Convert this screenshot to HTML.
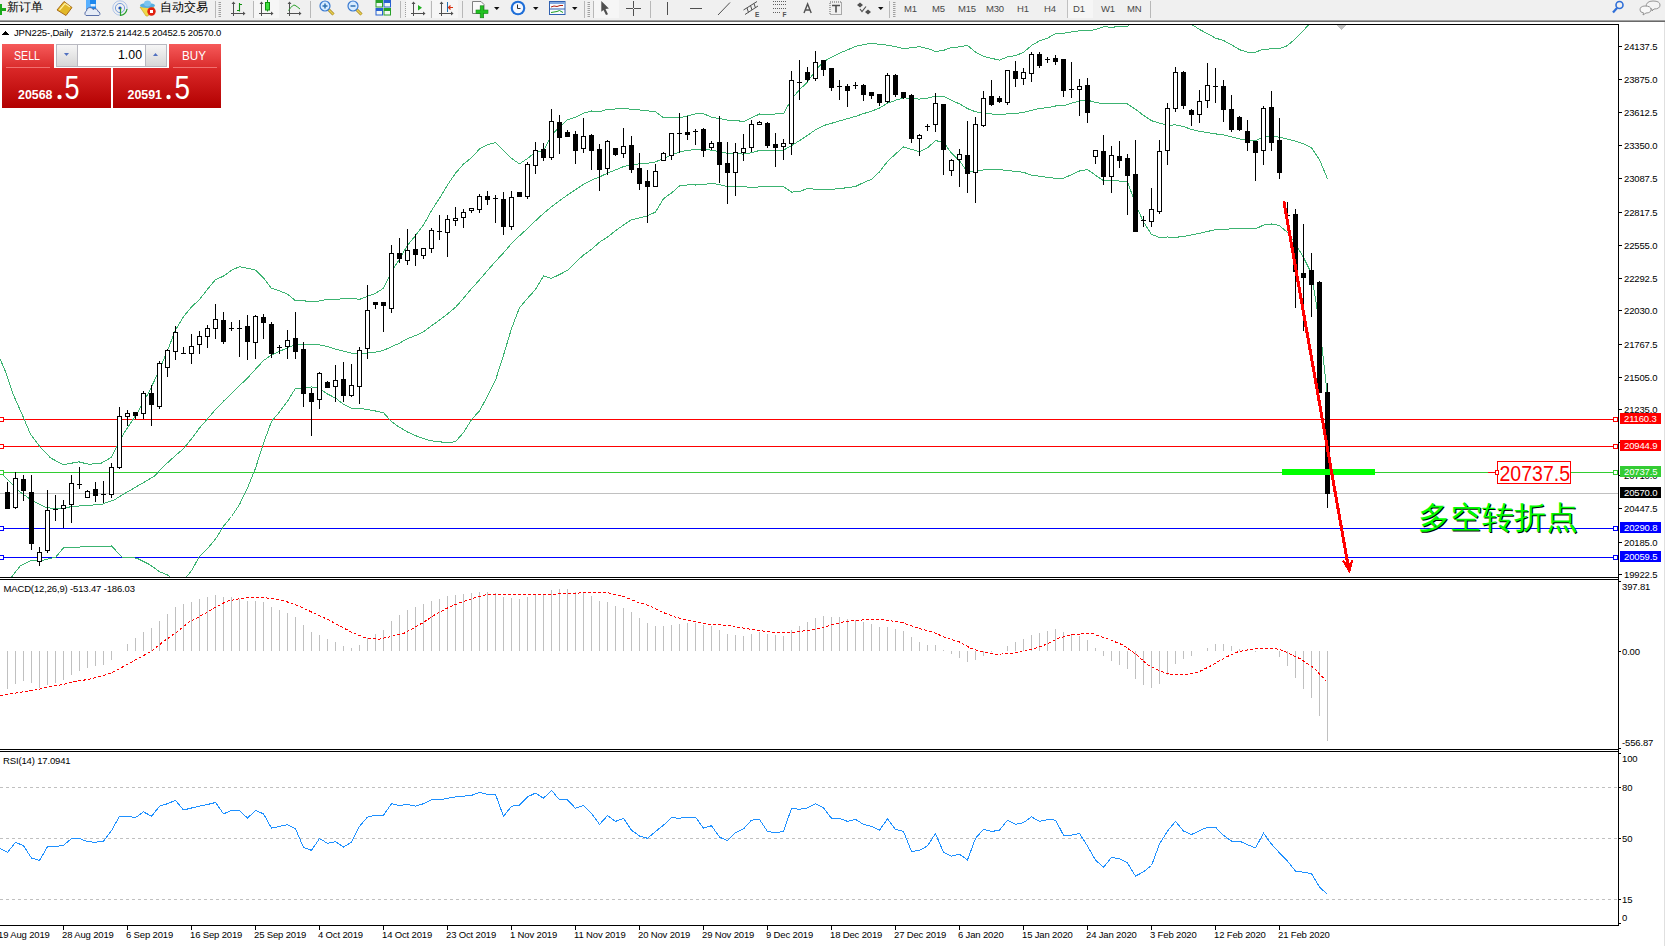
<!DOCTYPE html>
<html><head><meta charset="utf-8"><style>
html,body{margin:0;padding:0;width:1665px;height:946px;overflow:hidden;background:#fff;font-family:"Liberation Sans",sans-serif;}
#tb{position:absolute;left:0;top:0;width:1665px;height:20px;background:#f0f0f0;border-bottom:1px solid #a0a0a0;}
#tb2{position:absolute;left:0;top:21px;width:1665px;height:1px;background:#696969;}
svg{position:absolute;left:0;top:0;font-family:"Liberation Sans",sans-serif;}
.ax text{font-size:9.5px;letter-spacing:-0.15px;}
</style></head><body>
<div id="tb"></div><div id="tb2"></div>
<svg width="1665" height="946" viewBox="0 0 1665 946">
<g shape-rendering="crispEdges">
<defs><clipPath id="cm"><rect x="0" y="25" width="1618" height="552"/></clipPath><clipPath id="cd"><rect x="0" y="580" width="1618" height="169"/></clipPath><clipPath id="cr"><rect x="0" y="752" width="1618" height="173"/></clipPath></defs>
<g clip-path="url(#cm)">
<rect x="0" y="493" width="1618" height="1" fill="#c0c0c0"/>
<rect x="0" y="419" width="1618" height="1" fill="#ff0000"/>
<rect x="0" y="446" width="1618" height="1" fill="#ff0000"/>
<rect x="0" y="472" width="1618" height="1" fill="#32cd32"/>
<rect x="0" y="528" width="1618" height="1" fill="#0000ff"/>
<rect x="0" y="557" width="1618" height="1" fill="#0000ff"/>
<polyline points="0.0,359.0 5.0,370.4 12.7,393.3 22.8,416.1 30.4,433.9 40.6,447.8 50.7,458.0 63.4,464.8 78.7,461.8 88.8,464.3 101.5,463.0 111.6,457.2 119.3,441.5 124.3,432.6 137.0,413.6 149.7,390.7 159.5,369.7 167.5,350.6 175.5,329.9 183.5,316.6 191.5,306.9 199.5,299.5 207.5,289.2 215.5,279.7 223.5,276.1 231.5,270.3 239.5,266.7 247.5,268.2 255.5,270.1 263.5,278.0 271.5,288.3 279.5,290.9 287.5,294.1 295.5,300.7 303.5,300.8 311.5,301.6 319.5,301.0 327.5,299.2 335.5,300.0 343.5,298.1 351.5,298.1 359.5,299.4 367.5,296.3 375.5,293.4 383.5,288.2 391.5,271.8 399.5,259.1 407.5,245.3 415.5,235.6 423.5,225.0 431.5,210.6 439.5,198.3 447.5,185.0 455.5,173.2 463.5,164.1 471.5,157.7 479.5,149.0 487.5,144.7 495.5,142.6 503.5,150.6 511.5,158.4 519.5,163.8 527.5,158.6 535.5,152.1 543.5,150.8 551.5,135.2 559.5,127.0 567.5,119.7 575.5,117.2 583.5,113.2 591.5,111.0 599.5,111.9 607.5,109.3 615.5,109.0 623.5,108.2 631.5,109.4 639.5,110.0 647.5,110.8 655.5,111.7 663.5,117.7 671.5,117.2 679.5,117.9 687.5,115.9 695.5,113.9 703.5,113.7 711.5,117.1 719.5,118.6 727.5,120.1 735.5,120.3 743.5,121.7 751.5,117.9 759.5,114.0 767.5,114.3 775.5,114.0 783.5,113.7 791.5,99.2 799.5,89.7 807.5,82.0 815.5,70.3 823.5,61.6 831.5,57.2 839.5,53.1 847.5,49.9 855.5,46.3 863.5,44.6 871.5,43.1 879.5,44.4 887.5,45.1 895.5,46.7 903.5,48.7 911.5,47.6 919.5,46.7 927.5,48.5 935.5,51.4 943.5,50.4 951.5,47.5 959.5,46.9 967.5,45.4 975.5,52.1 983.5,56.4 991.5,58.3 999.5,60.2 1007.5,56.8 1015.5,55.6 1023.5,52.4 1031.5,45.5 1039.5,40.8 1047.5,38.1 1055.5,33.7 1063.5,33.2 1071.5,32.0 1079.5,30.7 1087.5,30.8 1095.5,29.7 1103.5,26.8 1111.5,27.2 1119.5,26.7 1127.5,26.5 1135.5,14.2 1143.5,9.0 1151.5,6.9 1159.5,9.0 1167.5,13.3 1175.5,12.6 1183.5,16.3 1191.5,24.3 1199.5,29.4 1207.5,33.7 1215.5,38.1 1223.5,40.5 1231.5,44.7 1239.5,49.7 1247.5,52.1 1255.5,52.1 1263.5,49.2 1271.5,48.9 1279.5,48.7 1287.5,45.6 1295.5,38.6 1303.5,30.4 1311.5,21.7 1319.5,-5.4 1327.5,-39.0" fill="none" stroke="#3cb371" stroke-width="1" />
<polyline points="0.0,472.0 7.6,479.6 20.3,492.2 33.0,501.1 45.7,507.5 55.8,508.7 76.1,506.2 101.5,504.4 114.2,499.9 126.9,492.2 142.1,483.4 154.8,475.8 159.5,470.7 167.5,462.8 175.5,455.5 183.5,448.7 191.5,438.8 199.5,428.0 207.5,418.9 215.5,409.4 223.5,401.2 231.5,393.4 239.5,385.6 247.5,378.1 255.5,369.2 263.5,360.6 271.5,354.9 279.5,351.4 287.5,347.7 295.5,344.5 303.5,344.5 311.5,344.3 319.5,344.8 327.5,346.6 335.5,349.1 343.5,351.1 351.5,353.1 359.5,353.9 367.5,353.0 375.5,352.2 383.5,350.4 391.5,346.7 399.5,343.2 407.5,338.6 415.5,335.6 423.5,331.9 431.5,325.8 439.5,320.0 447.5,313.9 455.5,307.3 463.5,298.3 471.5,288.7 479.5,279.9 487.5,270.5 495.5,261.4 503.5,252.9 511.5,243.5 519.5,235.8 527.5,228.5 535.5,220.8 543.5,213.4 551.5,206.8 559.5,200.8 567.5,195.0 575.5,189.8 583.5,184.2 591.5,180.1 599.5,177.0 607.5,173.1 615.5,169.9 623.5,166.6 631.5,164.6 639.5,163.9 647.5,163.3 655.5,161.9 663.5,158.3 671.5,155.1 679.5,152.0 687.5,150.4 695.5,149.4 703.5,149.1 711.5,150.2 719.5,151.6 727.5,153.4 735.5,153.5 743.5,154.1 751.5,152.8 759.5,150.4 767.5,150.6 775.5,150.3 783.5,150.1 791.5,145.7 799.5,140.6 807.5,135.3 815.5,129.8 823.5,125.6 831.5,123.3 839.5,120.9 847.5,118.7 855.5,116.4 863.5,113.6 871.5,111.2 879.5,108.1 887.5,103.3 895.5,100.3 903.5,97.8 911.5,98.5 919.5,99.1 927.5,98.2 935.5,96.0 943.5,96.3 951.5,100.3 959.5,103.9 967.5,108.6 975.5,111.8 983.5,113.2 991.5,114.0 999.5,114.8 1007.5,113.8 1015.5,113.4 1023.5,112.4 1031.5,110.3 1039.5,108.5 1047.5,107.7 1055.5,106.0 1063.5,105.7 1071.5,103.3 1079.5,100.8 1087.5,100.1 1095.5,102.5 1103.5,103.8 1111.5,103.6 1119.5,103.9 1127.5,104.0 1135.5,109.3 1143.5,115.4 1151.5,120.7 1159.5,123.2 1167.5,125.2 1175.5,124.9 1183.5,126.5 1191.5,129.5 1199.5,131.3 1207.5,132.6 1215.5,133.9 1223.5,134.8 1231.5,136.8 1239.5,138.9 1247.5,140.4 1255.5,140.5 1263.5,137.1 1271.5,136.5 1279.5,137.1 1287.5,139.1 1295.5,141.1 1303.5,143.9 1311.5,147.6 1319.5,159.7 1327.5,178.9" fill="none" stroke="#3cb371" stroke-width="1" />
<polyline points="0.0,600.0 11.4,577.2 20.3,565.8 30.4,560.8 43.1,560.2 55.8,557.0 63.4,548.0 83.7,546.8 111.6,546.0 121.8,557.0 137.0,558.2 149.7,564.6 159.5,571.7 167.5,575.0 175.5,581.1 183.5,580.7 191.5,570.7 199.5,556.4 207.5,548.6 215.5,539.1 223.5,526.3 231.5,516.5 239.5,504.5 247.5,488.0 255.5,468.2 263.5,443.2 271.5,421.4 279.5,412.0 287.5,401.3 295.5,388.3 303.5,388.2 311.5,386.9 319.5,388.5 327.5,394.0 335.5,398.1 343.5,404.2 351.5,408.2 359.5,408.3 367.5,409.6 375.5,411.0 383.5,412.7 391.5,421.6 399.5,427.3 407.5,432.0 415.5,435.6 423.5,438.7 431.5,440.9 439.5,441.7 447.5,442.9 455.5,441.5 463.5,432.6 471.5,419.7 479.5,410.8 487.5,396.2 495.5,380.2 503.5,355.3 511.5,328.6 519.5,307.7 527.5,298.3 535.5,289.5 543.5,276.0 551.5,278.4 559.5,274.5 567.5,270.4 575.5,262.4 583.5,255.1 591.5,249.3 599.5,242.2 607.5,237.0 615.5,230.8 623.5,225.0 631.5,219.8 639.5,217.8 647.5,215.8 655.5,212.1 663.5,198.8 671.5,192.9 679.5,186.0 687.5,184.9 695.5,185.0 703.5,184.5 711.5,183.3 719.5,184.5 727.5,186.6 735.5,186.7 743.5,186.5 751.5,187.7 759.5,186.9 767.5,186.9 775.5,186.6 783.5,186.5 791.5,192.1 799.5,191.6 807.5,188.5 815.5,189.3 823.5,189.6 831.5,189.3 839.5,188.7 847.5,187.6 855.5,186.5 863.5,182.6 871.5,179.3 879.5,171.9 887.5,161.4 895.5,154.0 903.5,146.9 911.5,149.4 919.5,151.6 927.5,147.9 935.5,140.6 943.5,142.2 951.5,153.1 959.5,160.9 967.5,171.8 975.5,171.4 983.5,170.0 991.5,169.7 999.5,169.4 1007.5,170.8 1015.5,171.2 1023.5,172.3 1031.5,175.1 1039.5,176.2 1047.5,177.3 1055.5,178.4 1063.5,178.3 1071.5,174.6 1079.5,171.0 1087.5,169.5 1095.5,175.2 1103.5,180.8 1111.5,180.0 1119.5,181.1 1127.5,181.4 1135.5,204.4 1143.5,221.9 1151.5,234.5 1159.5,237.4 1167.5,237.0 1175.5,237.2 1183.5,236.7 1191.5,234.8 1199.5,233.3 1207.5,231.5 1215.5,229.6 1223.5,229.2 1231.5,228.9 1239.5,228.2 1247.5,228.8 1255.5,228.9 1263.5,225.1 1271.5,224.0 1279.5,225.5 1287.5,232.6 1295.5,243.6 1303.5,257.4 1311.5,273.6 1319.5,324.7 1327.5,396.8" fill="none" stroke="#3cb371" stroke-width="1" />
<rect x="7" y="482" width="1" height="27" fill="#000"/>
<rect x="5" y="492" width="5" height="17" fill="#000"/>
<rect x="15" y="472" width="1" height="37" fill="#000"/>
<rect x="13.5" y="478.5" width="4" height="29" fill="#fff" stroke="#000" stroke-width="1"/>
<rect x="23" y="475" width="1" height="26" fill="#000"/>
<rect x="21" y="479" width="5" height="12" fill="#000"/>
<rect x="31" y="475" width="1" height="75" fill="#000"/>
<rect x="29" y="492" width="5" height="52" fill="#000"/>
<rect x="39" y="547" width="1" height="19" fill="#000"/>
<rect x="37.5" y="552.5" width="4" height="9" fill="#fff" stroke="#000" stroke-width="1"/>
<rect x="47" y="490" width="1" height="63" fill="#000"/>
<rect x="45.5" y="510.5" width="4" height="40" fill="#fff" stroke="#000" stroke-width="1"/>
<rect x="55" y="495" width="1" height="26" fill="#000"/>
<rect x="53" y="509" width="5" height="1" fill="#000"/>
<rect x="63" y="500" width="1" height="28" fill="#000"/>
<rect x="61.5" y="505.5" width="4" height="3" fill="#fff" stroke="#000" stroke-width="1"/>
<rect x="71" y="475" width="1" height="48" fill="#000"/>
<rect x="69.5" y="483.5" width="4" height="21" fill="#fff" stroke="#000" stroke-width="1"/>
<rect x="79" y="467" width="1" height="22" fill="#000"/>
<rect x="77" y="484" width="5" height="1" fill="#000"/>
<rect x="87" y="490" width="1" height="8" fill="#000"/>
<rect x="85.5" y="491.5" width="4" height="6" fill="#fff" stroke="#000" stroke-width="1"/>
<rect x="95" y="482" width="1" height="20" fill="#000"/>
<rect x="93" y="489" width="5" height="7" fill="#000"/>
<rect x="103" y="481" width="1" height="22" fill="#000"/>
<rect x="101" y="494" width="5" height="1" fill="#000"/>
<rect x="111" y="463" width="1" height="35" fill="#000"/>
<rect x="109.5" y="467.5" width="4" height="27" fill="#fff" stroke="#000" stroke-width="1"/>
<rect x="119" y="407" width="1" height="62" fill="#000"/>
<rect x="117.5" y="416.5" width="4" height="51" fill="#fff" stroke="#000" stroke-width="1"/>
<rect x="127" y="410" width="1" height="16" fill="#000"/>
<rect x="125.5" y="413.5" width="4" height="3" fill="#fff" stroke="#000" stroke-width="1"/>
<rect x="135" y="412" width="1" height="7" fill="#000"/>
<rect x="133" y="412" width="5" height="4" fill="#000"/>
<rect x="143" y="391" width="1" height="28" fill="#000"/>
<rect x="141.5" y="393.5" width="4" height="20" fill="#fff" stroke="#000" stroke-width="1"/>
<rect x="151" y="385" width="1" height="41" fill="#000"/>
<rect x="149" y="393" width="5" height="12" fill="#000"/>
<rect x="159" y="361" width="1" height="48" fill="#000"/>
<rect x="157.5" y="363.5" width="4" height="43" fill="#fff" stroke="#000" stroke-width="1"/>
<rect x="167" y="349" width="1" height="28" fill="#000"/>
<rect x="165.5" y="350.5" width="4" height="17" fill="#fff" stroke="#000" stroke-width="1"/>
<rect x="175" y="326" width="1" height="34" fill="#000"/>
<rect x="173.5" y="332.5" width="4" height="19" fill="#fff" stroke="#000" stroke-width="1"/>
<rect x="183" y="347" width="1" height="7" fill="#000"/>
<rect x="181" y="353" width="5" height="1" fill="#000"/>
<rect x="191" y="334" width="1" height="30" fill="#000"/>
<rect x="189.5" y="346.5" width="4" height="7" fill="#fff" stroke="#000" stroke-width="1"/>
<rect x="199" y="331" width="1" height="23" fill="#000"/>
<rect x="197.5" y="336.5" width="4" height="8" fill="#fff" stroke="#000" stroke-width="1"/>
<rect x="207" y="325" width="1" height="23" fill="#000"/>
<rect x="205.5" y="328.5" width="4" height="8" fill="#fff" stroke="#000" stroke-width="1"/>
<rect x="215" y="304" width="1" height="35" fill="#000"/>
<rect x="213.5" y="319.5" width="4" height="9" fill="#fff" stroke="#000" stroke-width="1"/>
<rect x="223" y="312" width="1" height="32" fill="#000"/>
<rect x="221" y="320" width="5" height="22" fill="#000"/>
<rect x="231" y="322" width="1" height="9" fill="#000"/>
<rect x="229" y="328" width="5" height="1" fill="#000"/>
<rect x="239" y="320" width="1" height="37" fill="#000"/>
<rect x="237" y="328" width="5" height="1" fill="#000"/>
<rect x="247" y="315" width="1" height="45" fill="#000"/>
<rect x="245" y="326" width="5" height="16" fill="#000"/>
<rect x="255" y="315" width="1" height="44" fill="#000"/>
<rect x="253.5" y="316.5" width="4" height="26" fill="#fff" stroke="#000" stroke-width="1"/>
<rect x="263" y="314" width="1" height="25" fill="#000"/>
<rect x="261" y="317" width="5" height="6" fill="#000"/>
<rect x="271" y="322" width="1" height="36" fill="#000"/>
<rect x="269" y="324" width="5" height="30" fill="#000"/>
<rect x="279" y="345" width="1" height="9" fill="#000"/>
<rect x="277" y="347" width="5" height="1" fill="#000"/>
<rect x="287" y="330" width="1" height="29" fill="#000"/>
<rect x="285.5" y="340.5" width="4" height="6" fill="#fff" stroke="#000" stroke-width="1"/>
<rect x="295" y="312" width="1" height="47" fill="#000"/>
<rect x="293" y="338" width="5" height="14" fill="#000"/>
<rect x="303" y="342" width="1" height="65" fill="#000"/>
<rect x="301" y="349" width="5" height="45" fill="#000"/>
<rect x="311" y="388" width="1" height="48" fill="#000"/>
<rect x="309" y="393" width="5" height="9" fill="#000"/>
<rect x="319" y="372" width="1" height="37" fill="#000"/>
<rect x="317.5" y="373.5" width="4" height="26" fill="#fff" stroke="#000" stroke-width="1"/>
<rect x="327" y="381" width="1" height="7" fill="#000"/>
<rect x="325" y="382" width="5" height="6" fill="#000"/>
<rect x="335" y="365" width="1" height="37" fill="#000"/>
<rect x="333.5" y="380.5" width="4" height="6" fill="#fff" stroke="#000" stroke-width="1"/>
<rect x="343" y="362" width="1" height="40" fill="#000"/>
<rect x="341" y="379" width="5" height="17" fill="#000"/>
<rect x="351" y="364" width="1" height="33" fill="#000"/>
<rect x="349.5" y="385.5" width="4" height="10" fill="#fff" stroke="#000" stroke-width="1"/>
<rect x="359" y="347" width="1" height="57" fill="#000"/>
<rect x="357.5" y="350.5" width="4" height="36" fill="#fff" stroke="#000" stroke-width="1"/>
<rect x="367" y="285" width="1" height="74" fill="#000"/>
<rect x="365.5" y="310.5" width="4" height="38" fill="#fff" stroke="#000" stroke-width="1"/>
<rect x="375" y="302" width="1" height="7" fill="#000"/>
<rect x="373" y="302" width="5" height="3" fill="#000"/>
<rect x="383" y="302" width="1" height="30" fill="#000"/>
<rect x="381" y="302" width="5" height="4" fill="#000"/>
<rect x="391" y="245" width="1" height="68" fill="#000"/>
<rect x="389.5" y="253.5" width="4" height="55" fill="#fff" stroke="#000" stroke-width="1"/>
<rect x="399" y="238" width="1" height="25" fill="#000"/>
<rect x="397" y="253" width="5" height="6" fill="#000"/>
<rect x="407" y="229" width="1" height="36" fill="#000"/>
<rect x="405.5" y="250.5" width="4" height="10" fill="#fff" stroke="#000" stroke-width="1"/>
<rect x="415" y="234" width="1" height="32" fill="#000"/>
<rect x="413" y="249" width="5" height="6" fill="#000"/>
<rect x="423" y="248" width="1" height="11" fill="#000"/>
<rect x="421.5" y="248.5" width="4" height="7" fill="#fff" stroke="#000" stroke-width="1"/>
<rect x="431" y="228" width="1" height="25" fill="#000"/>
<rect x="429.5" y="230.5" width="4" height="18" fill="#fff" stroke="#000" stroke-width="1"/>
<rect x="439" y="215" width="1" height="25" fill="#000"/>
<rect x="437" y="231" width="5" height="1" fill="#000"/>
<rect x="447" y="215" width="1" height="42" fill="#000"/>
<rect x="445.5" y="219.5" width="4" height="13" fill="#fff" stroke="#000" stroke-width="1"/>
<rect x="455" y="207" width="1" height="19" fill="#000"/>
<rect x="453.5" y="218.5" width="4" height="2" fill="#fff" stroke="#000" stroke-width="1"/>
<rect x="463" y="209" width="1" height="19" fill="#000"/>
<rect x="461.5" y="212.5" width="4" height="5" fill="#fff" stroke="#000" stroke-width="1"/>
<rect x="471" y="208" width="1" height="5" fill="#000"/>
<rect x="469.5" y="208.5" width="4" height="2" fill="#fff" stroke="#000" stroke-width="1"/>
<rect x="479" y="194" width="1" height="19" fill="#000"/>
<rect x="477.5" y="196.5" width="4" height="13" fill="#fff" stroke="#000" stroke-width="1"/>
<rect x="487" y="191" width="1" height="14" fill="#000"/>
<rect x="485" y="196" width="5" height="4" fill="#000"/>
<rect x="495" y="195" width="1" height="28" fill="#000"/>
<rect x="493" y="198" width="5" height="1" fill="#000"/>
<rect x="503" y="192" width="1" height="43" fill="#000"/>
<rect x="501" y="199" width="5" height="28" fill="#000"/>
<rect x="511" y="191" width="1" height="39" fill="#000"/>
<rect x="509.5" y="197.5" width="4" height="29" fill="#fff" stroke="#000" stroke-width="1"/>
<rect x="519" y="192" width="1" height="5" fill="#000"/>
<rect x="517" y="192" width="5" height="5" fill="#000"/>
<rect x="527" y="162" width="1" height="37" fill="#000"/>
<rect x="525.5" y="164.5" width="4" height="32" fill="#fff" stroke="#000" stroke-width="1"/>
<rect x="535" y="142" width="1" height="32" fill="#000"/>
<rect x="533.5" y="150.5" width="4" height="15" fill="#fff" stroke="#000" stroke-width="1"/>
<rect x="543" y="143" width="1" height="18" fill="#000"/>
<rect x="541" y="149" width="5" height="9" fill="#000"/>
<rect x="551" y="109" width="1" height="51" fill="#000"/>
<rect x="549.5" y="121.5" width="4" height="36" fill="#fff" stroke="#000" stroke-width="1"/>
<rect x="559" y="115" width="1" height="39" fill="#000"/>
<rect x="557" y="122" width="5" height="16" fill="#000"/>
<rect x="567" y="130" width="1" height="7" fill="#000"/>
<rect x="565" y="132" width="5" height="5" fill="#000"/>
<rect x="575" y="131" width="1" height="33" fill="#000"/>
<rect x="573" y="134" width="5" height="17" fill="#000"/>
<rect x="583" y="118" width="1" height="35" fill="#000"/>
<rect x="581.5" y="136.5" width="4" height="12" fill="#fff" stroke="#000" stroke-width="1"/>
<rect x="591" y="134" width="1" height="36" fill="#000"/>
<rect x="589" y="135" width="5" height="16" fill="#000"/>
<rect x="599" y="144" width="1" height="47" fill="#000"/>
<rect x="597" y="149" width="5" height="21" fill="#000"/>
<rect x="607" y="140" width="1" height="35" fill="#000"/>
<rect x="605.5" y="141.5" width="4" height="27" fill="#fff" stroke="#000" stroke-width="1"/>
<rect x="615" y="148" width="1" height="8" fill="#000"/>
<rect x="613" y="148" width="5" height="7" fill="#000"/>
<rect x="623" y="128" width="1" height="30" fill="#000"/>
<rect x="621.5" y="146.5" width="4" height="7" fill="#fff" stroke="#000" stroke-width="1"/>
<rect x="631" y="136" width="1" height="37" fill="#000"/>
<rect x="629" y="145" width="5" height="25" fill="#000"/>
<rect x="639" y="153" width="1" height="37" fill="#000"/>
<rect x="637" y="168" width="5" height="16" fill="#000"/>
<rect x="647" y="170" width="1" height="53" fill="#000"/>
<rect x="645" y="181" width="5" height="6" fill="#000"/>
<rect x="655" y="164" width="1" height="23" fill="#000"/>
<rect x="653.5" y="171.5" width="4" height="15" fill="#fff" stroke="#000" stroke-width="1"/>
<rect x="663" y="152" width="1" height="9" fill="#000"/>
<rect x="661.5" y="153.5" width="4" height="7" fill="#fff" stroke="#000" stroke-width="1"/>
<rect x="671" y="133" width="1" height="27" fill="#000"/>
<rect x="669.5" y="133.5" width="4" height="22" fill="#fff" stroke="#000" stroke-width="1"/>
<rect x="679" y="113" width="1" height="40" fill="#000"/>
<rect x="677" y="133" width="5" height="1" fill="#000"/>
<rect x="687" y="116" width="1" height="24" fill="#000"/>
<rect x="685" y="132" width="5" height="3" fill="#000"/>
<rect x="695" y="129" width="1" height="16" fill="#000"/>
<rect x="693" y="131" width="5" height="1" fill="#000"/>
<rect x="703" y="128" width="1" height="29" fill="#000"/>
<rect x="701" y="129" width="5" height="22" fill="#000"/>
<rect x="711" y="141" width="1" height="9" fill="#000"/>
<rect x="709.5" y="143.5" width="4" height="4" fill="#fff" stroke="#000" stroke-width="1"/>
<rect x="719" y="116" width="1" height="67" fill="#000"/>
<rect x="717" y="142" width="5" height="23" fill="#000"/>
<rect x="727" y="142" width="1" height="62" fill="#000"/>
<rect x="725" y="163" width="5" height="10" fill="#000"/>
<rect x="735" y="143" width="1" height="53" fill="#000"/>
<rect x="733.5" y="152.5" width="4" height="20" fill="#fff" stroke="#000" stroke-width="1"/>
<rect x="743" y="134" width="1" height="27" fill="#000"/>
<rect x="741.5" y="148.5" width="4" height="4" fill="#fff" stroke="#000" stroke-width="1"/>
<rect x="751" y="120" width="1" height="32" fill="#000"/>
<rect x="749.5" y="124.5" width="4" height="23" fill="#fff" stroke="#000" stroke-width="1"/>
<rect x="759" y="121" width="1" height="4" fill="#000"/>
<rect x="757.5" y="122.5" width="4" height="2" fill="#fff" stroke="#000" stroke-width="1"/>
<rect x="767" y="122" width="1" height="26" fill="#000"/>
<rect x="765" y="123" width="5" height="23" fill="#000"/>
<rect x="775" y="133" width="1" height="34" fill="#000"/>
<rect x="773" y="144" width="5" height="4" fill="#000"/>
<rect x="783" y="139" width="1" height="21" fill="#000"/>
<rect x="781.5" y="143.5" width="4" height="3" fill="#fff" stroke="#000" stroke-width="1"/>
<rect x="791" y="71" width="1" height="84" fill="#000"/>
<rect x="789.5" y="80.5" width="4" height="63" fill="#fff" stroke="#000" stroke-width="1"/>
<rect x="799" y="60" width="1" height="40" fill="#000"/>
<rect x="797" y="82" width="5" height="1" fill="#000"/>
<rect x="807" y="67" width="1" height="15" fill="#000"/>
<rect x="805" y="72" width="5" height="8" fill="#000"/>
<rect x="815" y="51" width="1" height="30" fill="#000"/>
<rect x="813.5" y="62.5" width="4" height="16" fill="#fff" stroke="#000" stroke-width="1"/>
<rect x="823" y="60" width="1" height="16" fill="#000"/>
<rect x="821" y="60" width="5" height="10" fill="#000"/>
<rect x="831" y="68" width="1" height="23" fill="#000"/>
<rect x="829" y="68" width="5" height="20" fill="#000"/>
<rect x="839" y="80" width="1" height="20" fill="#000"/>
<rect x="837" y="86" width="5" height="1" fill="#000"/>
<rect x="847" y="84" width="1" height="23" fill="#000"/>
<rect x="845" y="86" width="5" height="5" fill="#000"/>
<rect x="855" y="82" width="1" height="7" fill="#000"/>
<rect x="853" y="85" width="5" height="1" fill="#000"/>
<rect x="863" y="84" width="1" height="17" fill="#000"/>
<rect x="861" y="85" width="5" height="10" fill="#000"/>
<rect x="871" y="92" width="1" height="7" fill="#000"/>
<rect x="869" y="92" width="5" height="4" fill="#000"/>
<rect x="879" y="94" width="1" height="12" fill="#000"/>
<rect x="877" y="94" width="5" height="9" fill="#000"/>
<rect x="887" y="73" width="1" height="30" fill="#000"/>
<rect x="885.5" y="75.5" width="4" height="26" fill="#fff" stroke="#000" stroke-width="1"/>
<rect x="895" y="74" width="1" height="23" fill="#000"/>
<rect x="893" y="75" width="5" height="20" fill="#000"/>
<rect x="903" y="92" width="1" height="7" fill="#000"/>
<rect x="901" y="92" width="5" height="6" fill="#000"/>
<rect x="911" y="94" width="1" height="49" fill="#000"/>
<rect x="909" y="95" width="5" height="44" fill="#000"/>
<rect x="919" y="134" width="1" height="22" fill="#000"/>
<rect x="917.5" y="135.5" width="4" height="3" fill="#fff" stroke="#000" stroke-width="1"/>
<rect x="927" y="124" width="1" height="7" fill="#000"/>
<rect x="925" y="126" width="5" height="1" fill="#000"/>
<rect x="935" y="93" width="1" height="39" fill="#000"/>
<rect x="933.5" y="103.5" width="4" height="21" fill="#fff" stroke="#000" stroke-width="1"/>
<rect x="943" y="104" width="1" height="71" fill="#000"/>
<rect x="941" y="104" width="5" height="46" fill="#000"/>
<rect x="951" y="159" width="1" height="17" fill="#000"/>
<rect x="949.5" y="160.5" width="4" height="10" fill="#fff" stroke="#000" stroke-width="1"/>
<rect x="959" y="149" width="1" height="38" fill="#000"/>
<rect x="957.5" y="154.5" width="4" height="5" fill="#fff" stroke="#000" stroke-width="1"/>
<rect x="967" y="121" width="1" height="72" fill="#000"/>
<rect x="965" y="155" width="5" height="19" fill="#000"/>
<rect x="975" y="117" width="1" height="86" fill="#000"/>
<rect x="973.5" y="124.5" width="4" height="48" fill="#fff" stroke="#000" stroke-width="1"/>
<rect x="983" y="91" width="1" height="36" fill="#000"/>
<rect x="981.5" y="98.5" width="4" height="27" fill="#fff" stroke="#000" stroke-width="1"/>
<rect x="991" y="80" width="1" height="26" fill="#000"/>
<rect x="989" y="96" width="5" height="9" fill="#000"/>
<rect x="999" y="96" width="1" height="7" fill="#000"/>
<rect x="997" y="98" width="5" height="4" fill="#000"/>
<rect x="1007" y="70" width="1" height="35" fill="#000"/>
<rect x="1005.5" y="70.5" width="4" height="32" fill="#fff" stroke="#000" stroke-width="1"/>
<rect x="1015" y="61" width="1" height="26" fill="#000"/>
<rect x="1013" y="71" width="5" height="8" fill="#000"/>
<rect x="1023" y="68" width="1" height="17" fill="#000"/>
<rect x="1021.5" y="72.5" width="4" height="6" fill="#fff" stroke="#000" stroke-width="1"/>
<rect x="1031" y="52" width="1" height="30" fill="#000"/>
<rect x="1029.5" y="54.5" width="4" height="19" fill="#fff" stroke="#000" stroke-width="1"/>
<rect x="1039" y="52" width="1" height="16" fill="#000"/>
<rect x="1037" y="54" width="5" height="12" fill="#000"/>
<rect x="1047" y="57" width="1" height="6" fill="#000"/>
<rect x="1045" y="59" width="5" height="1" fill="#000"/>
<rect x="1055" y="55" width="1" height="10" fill="#000"/>
<rect x="1053" y="58" width="5" height="4" fill="#000"/>
<rect x="1063" y="59" width="1" height="38" fill="#000"/>
<rect x="1061" y="59" width="5" height="32" fill="#000"/>
<rect x="1071" y="62" width="1" height="36" fill="#000"/>
<rect x="1069" y="89" width="5" height="1" fill="#000"/>
<rect x="1079" y="79" width="1" height="37" fill="#000"/>
<rect x="1077.5" y="86.5" width="4" height="3" fill="#fff" stroke="#000" stroke-width="1"/>
<rect x="1087" y="78" width="1" height="45" fill="#000"/>
<rect x="1085" y="85" width="5" height="28" fill="#000"/>
<rect x="1095" y="150" width="1" height="14" fill="#000"/>
<rect x="1093.5" y="150.5" width="4" height="6" fill="#fff" stroke="#000" stroke-width="1"/>
<rect x="1103" y="135" width="1" height="50" fill="#000"/>
<rect x="1101" y="151" width="5" height="26" fill="#000"/>
<rect x="1111" y="146" width="1" height="47" fill="#000"/>
<rect x="1109.5" y="155.5" width="4" height="21" fill="#fff" stroke="#000" stroke-width="1"/>
<rect x="1119" y="141" width="1" height="27" fill="#000"/>
<rect x="1117" y="156" width="5" height="5" fill="#000"/>
<rect x="1127" y="154" width="1" height="61" fill="#000"/>
<rect x="1125" y="158" width="5" height="18" fill="#000"/>
<rect x="1135" y="140" width="1" height="92" fill="#000"/>
<rect x="1133" y="174" width="5" height="58" fill="#000"/>
<rect x="1143" y="216" width="1" height="11" fill="#000"/>
<rect x="1141" y="220" width="5" height="1" fill="#000"/>
<rect x="1151" y="188" width="1" height="39" fill="#000"/>
<rect x="1149.5" y="209.5" width="4" height="12" fill="#fff" stroke="#000" stroke-width="1"/>
<rect x="1159" y="140" width="1" height="74" fill="#000"/>
<rect x="1157.5" y="151.5" width="4" height="60" fill="#fff" stroke="#000" stroke-width="1"/>
<rect x="1167" y="103" width="1" height="62" fill="#000"/>
<rect x="1165.5" y="108.5" width="4" height="42" fill="#fff" stroke="#000" stroke-width="1"/>
<rect x="1175" y="67" width="1" height="45" fill="#000"/>
<rect x="1173.5" y="72.5" width="4" height="36" fill="#fff" stroke="#000" stroke-width="1"/>
<rect x="1183" y="71" width="1" height="38" fill="#000"/>
<rect x="1181" y="72" width="5" height="34" fill="#000"/>
<rect x="1191" y="109" width="1" height="17" fill="#000"/>
<rect x="1189" y="110" width="5" height="5" fill="#000"/>
<rect x="1199" y="90" width="1" height="33" fill="#000"/>
<rect x="1197.5" y="101.5" width="4" height="13" fill="#fff" stroke="#000" stroke-width="1"/>
<rect x="1207" y="63" width="1" height="45" fill="#000"/>
<rect x="1205.5" y="85.5" width="4" height="15" fill="#fff" stroke="#000" stroke-width="1"/>
<rect x="1215" y="68" width="1" height="35" fill="#000"/>
<rect x="1213" y="86" width="5" height="1" fill="#000"/>
<rect x="1223" y="80" width="1" height="42" fill="#000"/>
<rect x="1221" y="86" width="5" height="24" fill="#000"/>
<rect x="1231" y="95" width="1" height="37" fill="#000"/>
<rect x="1229" y="109" width="5" height="21" fill="#000"/>
<rect x="1239" y="116" width="1" height="15" fill="#000"/>
<rect x="1237" y="117" width="5" height="13" fill="#000"/>
<rect x="1247" y="120" width="1" height="31" fill="#000"/>
<rect x="1245" y="131" width="5" height="12" fill="#000"/>
<rect x="1255" y="141" width="1" height="40" fill="#000"/>
<rect x="1253" y="141" width="5" height="12" fill="#000"/>
<rect x="1263" y="106" width="1" height="59" fill="#000"/>
<rect x="1261.5" y="108.5" width="4" height="42" fill="#fff" stroke="#000" stroke-width="1"/>
<rect x="1271" y="91" width="1" height="60" fill="#000"/>
<rect x="1269" y="107" width="5" height="36" fill="#000"/>
<rect x="1279" y="118" width="1" height="61" fill="#000"/>
<rect x="1277" y="140" width="5" height="33" fill="#000"/>
<rect x="1287" y="202" width="1" height="14" fill="#000"/>
<rect x="1285" y="215" width="5" height="1" fill="#000"/>
<rect x="1295" y="209" width="1" height="99" fill="#000"/>
<rect x="1293" y="214" width="5" height="58" fill="#000"/>
<rect x="1303" y="224" width="1" height="107" fill="#000"/>
<rect x="1301" y="273" width="5" height="5" fill="#000"/>
<rect x="1311" y="253" width="1" height="64" fill="#000"/>
<rect x="1309" y="270" width="5" height="15" fill="#000"/>
<rect x="1319" y="281" width="1" height="112" fill="#000"/>
<rect x="1317" y="282" width="5" height="111" fill="#000"/>
<rect x="1327" y="383" width="1" height="125" fill="#000"/>
<rect x="1325" y="392" width="5" height="102" fill="#000"/>
</g>
<rect x="-1" y="417" width="5" height="5" fill="#ff0000"/><rect x="0" y="418" width="3" height="3" fill="#fff"/>
<rect x="1613" y="417" width="5" height="5" fill="#ff0000"/><rect x="1614" y="418" width="3" height="3" fill="#fff"/>
<rect x="-1" y="444" width="5" height="5" fill="#ff0000"/><rect x="0" y="445" width="3" height="3" fill="#fff"/>
<rect x="1613" y="444" width="5" height="5" fill="#ff0000"/><rect x="1614" y="445" width="3" height="3" fill="#fff"/>
<rect x="-1" y="470" width="5" height="5" fill="#32cd32"/><rect x="0" y="471" width="3" height="3" fill="#fff"/>
<rect x="1613" y="470" width="5" height="5" fill="#32cd32"/><rect x="1614" y="471" width="3" height="3" fill="#fff"/>
<rect x="-1" y="526" width="5" height="5" fill="#0000ff"/><rect x="0" y="527" width="3" height="3" fill="#fff"/>
<rect x="1613" y="526" width="5" height="5" fill="#0000ff"/><rect x="1614" y="527" width="3" height="3" fill="#fff"/>
<rect x="-1" y="555" width="5" height="5" fill="#0000ff"/><rect x="0" y="556" width="3" height="3" fill="#fff"/>
<rect x="1613" y="555" width="5" height="5" fill="#0000ff"/><rect x="1614" y="556" width="3" height="3" fill="#fff"/>
<rect x="1282" y="469" width="93" height="6" fill="#00ff00"/>
<line x1="1284" y1="202" x2="1348" y2="565" stroke="#ff0000" stroke-width="3" stroke-linecap="round"/>
<polygon points="1343,561 1349.5,572 1352.5,560 1349,565" fill="#ff0000" stroke="#ff0000" stroke-width="1.5"/>
<rect x="1497.5" y="461.5" width="73" height="22" fill="#fff" stroke="#ff0000"/>
<rect x="0" y="24" width="1619" height="1" fill="#000"/>
<rect x="0" y="577" width="1619" height="1" fill="#000"/>
<rect x="0" y="579" width="1619" height="1" fill="#000"/>
<rect x="0" y="749" width="1619" height="1" fill="#000"/>
<rect x="0" y="751" width="1619" height="1" fill="#000"/>
<rect x="0" y="925" width="1619" height="1" fill="#000"/>
<rect x="1618" y="24" width="1" height="902" fill="#000"/>
<rect x="1664" y="22" width="1" height="924" fill="#e0e0e0"/>
<rect x="1619" y="46" width="3" height="1" fill="#000"/>
<rect x="1619" y="79" width="3" height="1" fill="#000"/>
<rect x="1619" y="112" width="3" height="1" fill="#000"/>
<rect x="1619" y="145" width="3" height="1" fill="#000"/>
<rect x="1619" y="178" width="3" height="1" fill="#000"/>
<rect x="1619" y="212" width="3" height="1" fill="#000"/>
<rect x="1619" y="245" width="3" height="1" fill="#000"/>
<rect x="1619" y="278" width="3" height="1" fill="#000"/>
<rect x="1619" y="310" width="3" height="1" fill="#000"/>
<rect x="1619" y="344" width="3" height="1" fill="#000"/>
<rect x="1619" y="377" width="3" height="1" fill="#000"/>
<rect x="1619" y="409" width="3" height="1" fill="#000"/>
<rect x="1619" y="442" width="3" height="1" fill="#000"/>
<rect x="1619" y="475" width="3" height="1" fill="#000"/>
<rect x="1619" y="508" width="3" height="1" fill="#000"/>
<rect x="1619" y="542" width="3" height="1" fill="#000"/>
<rect x="1619" y="574" width="3" height="1" fill="#000"/>
<g clip-path="url(#cd)">
<rect x="7" y="651.3" width="1" height="37.2" fill="#c0c0c0"/>
<rect x="15" y="651.3" width="1" height="32.7" fill="#c0c0c0"/>
<rect x="23" y="651.3" width="1" height="29.6" fill="#c0c0c0"/>
<rect x="31" y="651.3" width="1" height="32.1" fill="#c0c0c0"/>
<rect x="39" y="651.3" width="1" height="36.4" fill="#c0c0c0"/>
<rect x="47" y="651.3" width="1" height="33.9" fill="#c0c0c0"/>
<rect x="55" y="651.3" width="1" height="31.4" fill="#c0c0c0"/>
<rect x="63" y="651.3" width="1" height="28.9" fill="#c0c0c0"/>
<rect x="71" y="651.3" width="1" height="23.8" fill="#c0c0c0"/>
<rect x="79" y="651.3" width="1" height="19.5" fill="#c0c0c0"/>
<rect x="87" y="651.3" width="1" height="16.3" fill="#c0c0c0"/>
<rect x="95" y="651.3" width="1" height="14.5" fill="#c0c0c0"/>
<rect x="103" y="651.3" width="1" height="13.7" fill="#c0c0c0"/>
<rect x="111" y="651.3" width="1" height="8.7" fill="#c0c0c0"/>
<rect x="127" y="644.1" width="1" height="7.2" fill="#c0c0c0"/>
<rect x="135" y="638.0" width="1" height="13.3" fill="#c0c0c0"/>
<rect x="143" y="631.7" width="1" height="19.6" fill="#c0c0c0"/>
<rect x="151" y="627.9" width="1" height="23.4" fill="#c0c0c0"/>
<rect x="159" y="620.9" width="1" height="30.4" fill="#c0c0c0"/>
<rect x="167" y="614.1" width="1" height="37.2" fill="#c0c0c0"/>
<rect x="175" y="607.0" width="1" height="44.3" fill="#c0c0c0"/>
<rect x="183" y="604.0" width="1" height="47.3" fill="#c0c0c0"/>
<rect x="191" y="602.0" width="1" height="49.3" fill="#c0c0c0"/>
<rect x="199" y="598.9" width="1" height="52.4" fill="#c0c0c0"/>
<rect x="207" y="596.9" width="1" height="54.4" fill="#c0c0c0"/>
<rect x="215" y="595.2" width="1" height="56.1" fill="#c0c0c0"/>
<rect x="223" y="596.9" width="1" height="54.4" fill="#c0c0c0"/>
<rect x="231" y="596.9" width="1" height="54.4" fill="#c0c0c0"/>
<rect x="239" y="599.4" width="1" height="51.9" fill="#c0c0c0"/>
<rect x="247" y="601.2" width="1" height="50.1" fill="#c0c0c0"/>
<rect x="255" y="601.2" width="1" height="50.1" fill="#c0c0c0"/>
<rect x="263" y="602.0" width="1" height="49.3" fill="#c0c0c0"/>
<rect x="271" y="607.0" width="1" height="44.3" fill="#c0c0c0"/>
<rect x="279" y="610.0" width="1" height="41.3" fill="#c0c0c0"/>
<rect x="287" y="612.8" width="1" height="38.5" fill="#c0c0c0"/>
<rect x="295" y="617.1" width="1" height="34.2" fill="#c0c0c0"/>
<rect x="303" y="624.7" width="1" height="26.6" fill="#c0c0c0"/>
<rect x="311" y="631.7" width="1" height="19.6" fill="#c0c0c0"/>
<rect x="319" y="635.3" width="1" height="16.0" fill="#c0c0c0"/>
<rect x="327" y="639.0" width="1" height="12.3" fill="#c0c0c0"/>
<rect x="335" y="642.3" width="1" height="9.0" fill="#c0c0c0"/>
<rect x="343" y="646.1" width="1" height="5.2" fill="#c0c0c0"/>
<rect x="351" y="648.1" width="1" height="3.2" fill="#c0c0c0"/>
<rect x="359" y="644.9" width="1" height="6.4" fill="#c0c0c0"/>
<rect x="367" y="638.0" width="1" height="13.3" fill="#c0c0c0"/>
<rect x="375" y="634.0" width="1" height="17.3" fill="#c0c0c0"/>
<rect x="383" y="629.7" width="1" height="21.6" fill="#c0c0c0"/>
<rect x="391" y="620.9" width="1" height="30.4" fill="#c0c0c0"/>
<rect x="399" y="615.1" width="1" height="36.2" fill="#c0c0c0"/>
<rect x="407" y="610.0" width="1" height="41.3" fill="#c0c0c0"/>
<rect x="415" y="607.0" width="1" height="44.3" fill="#c0c0c0"/>
<rect x="423" y="604.0" width="1" height="47.3" fill="#c0c0c0"/>
<rect x="431" y="601.2" width="1" height="50.1" fill="#c0c0c0"/>
<rect x="439" y="599.2" width="1" height="52.1" fill="#c0c0c0"/>
<rect x="447" y="596.2" width="1" height="55.1" fill="#c0c0c0"/>
<rect x="455" y="595.2" width="1" height="56.1" fill="#c0c0c0"/>
<rect x="463" y="594.1" width="1" height="57.2" fill="#c0c0c0"/>
<rect x="471" y="593.1" width="1" height="58.2" fill="#c0c0c0"/>
<rect x="479" y="592.1" width="1" height="59.2" fill="#c0c0c0"/>
<rect x="487" y="592.1" width="1" height="59.2" fill="#c0c0c0"/>
<rect x="495" y="593.1" width="1" height="58.2" fill="#c0c0c0"/>
<rect x="503" y="596.9" width="1" height="54.4" fill="#c0c0c0"/>
<rect x="511" y="598.2" width="1" height="53.1" fill="#c0c0c0"/>
<rect x="519" y="599.2" width="1" height="52.1" fill="#c0c0c0"/>
<rect x="527" y="597.2" width="1" height="54.1" fill="#c0c0c0"/>
<rect x="535" y="594.6" width="1" height="56.7" fill="#c0c0c0"/>
<rect x="543" y="594.1" width="1" height="57.2" fill="#c0c0c0"/>
<rect x="551" y="590.1" width="1" height="61.2" fill="#c0c0c0"/>
<rect x="559" y="589.1" width="1" height="62.2" fill="#c0c0c0"/>
<rect x="567" y="589.1" width="1" height="62.2" fill="#c0c0c0"/>
<rect x="575" y="592.1" width="1" height="59.2" fill="#c0c0c0"/>
<rect x="583" y="593.1" width="1" height="58.2" fill="#c0c0c0"/>
<rect x="591" y="596.2" width="1" height="55.1" fill="#c0c0c0"/>
<rect x="599" y="601.2" width="1" height="50.1" fill="#c0c0c0"/>
<rect x="607" y="602.2" width="1" height="49.1" fill="#c0c0c0"/>
<rect x="615" y="606.3" width="1" height="45.0" fill="#c0c0c0"/>
<rect x="623" y="608.3" width="1" height="43.0" fill="#c0c0c0"/>
<rect x="631" y="612.1" width="1" height="39.2" fill="#c0c0c0"/>
<rect x="639" y="617.9" width="1" height="33.4" fill="#c0c0c0"/>
<rect x="647" y="623.4" width="1" height="27.9" fill="#c0c0c0"/>
<rect x="655" y="625.9" width="1" height="25.4" fill="#c0c0c0"/>
<rect x="663" y="625.9" width="1" height="25.4" fill="#c0c0c0"/>
<rect x="671" y="624.9" width="1" height="26.4" fill="#c0c0c0"/>
<rect x="679" y="624.2" width="1" height="27.1" fill="#c0c0c0"/>
<rect x="687" y="622.9" width="1" height="28.4" fill="#c0c0c0"/>
<rect x="695" y="622.9" width="1" height="28.4" fill="#c0c0c0"/>
<rect x="703" y="624.9" width="1" height="26.4" fill="#c0c0c0"/>
<rect x="711" y="625.9" width="1" height="25.4" fill="#c0c0c0"/>
<rect x="719" y="630.2" width="1" height="21.1" fill="#c0c0c0"/>
<rect x="727" y="634.0" width="1" height="17.3" fill="#c0c0c0"/>
<rect x="735" y="635.3" width="1" height="16.0" fill="#c0c0c0"/>
<rect x="743" y="636.0" width="1" height="15.3" fill="#c0c0c0"/>
<rect x="751" y="634.0" width="1" height="17.3" fill="#c0c0c0"/>
<rect x="759" y="631.5" width="1" height="19.8" fill="#c0c0c0"/>
<rect x="767" y="633.5" width="1" height="17.8" fill="#c0c0c0"/>
<rect x="775" y="635.0" width="1" height="16.3" fill="#c0c0c0"/>
<rect x="783" y="636.0" width="1" height="15.3" fill="#c0c0c0"/>
<rect x="791" y="630.2" width="1" height="21.1" fill="#c0c0c0"/>
<rect x="799" y="625.9" width="1" height="25.4" fill="#c0c0c0"/>
<rect x="807" y="622.1" width="1" height="29.2" fill="#c0c0c0"/>
<rect x="815" y="617.9" width="1" height="33.4" fill="#c0c0c0"/>
<rect x="823" y="615.8" width="1" height="35.5" fill="#c0c0c0"/>
<rect x="831" y="617.1" width="1" height="34.2" fill="#c0c0c0"/>
<rect x="839" y="617.1" width="1" height="34.2" fill="#c0c0c0"/>
<rect x="847" y="619.1" width="1" height="32.2" fill="#c0c0c0"/>
<rect x="855" y="620.4" width="1" height="30.9" fill="#c0c0c0"/>
<rect x="863" y="622.1" width="1" height="29.2" fill="#c0c0c0"/>
<rect x="871" y="624.2" width="1" height="27.1" fill="#c0c0c0"/>
<rect x="879" y="627.2" width="1" height="24.1" fill="#c0c0c0"/>
<rect x="887" y="627.2" width="1" height="24.1" fill="#c0c0c0"/>
<rect x="895" y="628.5" width="1" height="22.8" fill="#c0c0c0"/>
<rect x="903" y="631.0" width="1" height="20.3" fill="#c0c0c0"/>
<rect x="911" y="637.3" width="1" height="14.0" fill="#c0c0c0"/>
<rect x="919" y="642.3" width="1" height="9.0" fill="#c0c0c0"/>
<rect x="927" y="644.9" width="1" height="6.4" fill="#c0c0c0"/>
<rect x="935" y="644.9" width="1" height="6.4" fill="#c0c0c0"/>
<rect x="943" y="650.4" width="1" height="0.9" fill="#c0c0c0"/>
<rect x="951" y="651.3" width="1" height="2.4" fill="#c0c0c0"/>
<rect x="959" y="651.3" width="1" height="6.7" fill="#c0c0c0"/>
<rect x="967" y="651.3" width="1" height="10.5" fill="#c0c0c0"/>
<rect x="975" y="651.3" width="1" height="8.7" fill="#c0c0c0"/>
<rect x="983" y="651.3" width="1" height="4.4" fill="#c0c0c0"/>
<rect x="991" y="651.3" width="1" height="1.1" fill="#c0c0c0"/>
<rect x="1007" y="646.1" width="1" height="5.2" fill="#c0c0c0"/>
<rect x="1015" y="642.3" width="1" height="9.0" fill="#c0c0c0"/>
<rect x="1023" y="639.0" width="1" height="12.3" fill="#c0c0c0"/>
<rect x="1031" y="635.3" width="1" height="16.0" fill="#c0c0c0"/>
<rect x="1039" y="633.0" width="1" height="18.3" fill="#c0c0c0"/>
<rect x="1047" y="631.0" width="1" height="20.3" fill="#c0c0c0"/>
<rect x="1055" y="629.2" width="1" height="22.1" fill="#c0c0c0"/>
<rect x="1063" y="632.2" width="1" height="19.1" fill="#c0c0c0"/>
<rect x="1071" y="634.8" width="1" height="16.5" fill="#c0c0c0"/>
<rect x="1079" y="636.0" width="1" height="15.3" fill="#c0c0c0"/>
<rect x="1087" y="639.8" width="1" height="11.5" fill="#c0c0c0"/>
<rect x="1095" y="648.1" width="1" height="3.2" fill="#c0c0c0"/>
<rect x="1103" y="651.3" width="1" height="4.4" fill="#c0c0c0"/>
<rect x="1111" y="651.3" width="1" height="9.4" fill="#c0c0c0"/>
<rect x="1119" y="651.3" width="1" height="13.7" fill="#c0c0c0"/>
<rect x="1127" y="651.3" width="1" height="17.5" fill="#c0c0c0"/>
<rect x="1135" y="651.3" width="1" height="27.6" fill="#c0c0c0"/>
<rect x="1143" y="651.3" width="1" height="33.4" fill="#c0c0c0"/>
<rect x="1151" y="651.3" width="1" height="36.4" fill="#c0c0c0"/>
<rect x="1159" y="651.3" width="1" height="32.7" fill="#c0c0c0"/>
<rect x="1167" y="651.3" width="1" height="23.8" fill="#c0c0c0"/>
<rect x="1175" y="651.3" width="1" height="12.5" fill="#c0c0c0"/>
<rect x="1183" y="651.3" width="1" height="7.4" fill="#c0c0c0"/>
<rect x="1191" y="651.3" width="1" height="4.4" fill="#c0c0c0"/>
<rect x="1207" y="648.1" width="1" height="3.2" fill="#c0c0c0"/>
<rect x="1215" y="644.1" width="1" height="7.2" fill="#c0c0c0"/>
<rect x="1223" y="644.1" width="1" height="7.2" fill="#c0c0c0"/>
<rect x="1231" y="646.1" width="1" height="5.2" fill="#c0c0c0"/>
<rect x="1239" y="648.6" width="1" height="2.7" fill="#c0c0c0"/>
<rect x="1247" y="650.4" width="1" height="0.9" fill="#c0c0c0"/>
<rect x="1255" y="651.3" width="1" height="1.1" fill="#c0c0c0"/>
<rect x="1279" y="651.3" width="1" height="5.4" fill="#c0c0c0"/>
<rect x="1287" y="651.3" width="1" height="14.5" fill="#c0c0c0"/>
<rect x="1295" y="651.3" width="1" height="27.1" fill="#c0c0c0"/>
<rect x="1303" y="651.3" width="1" height="37.2" fill="#c0c0c0"/>
<rect x="1311" y="651.3" width="1" height="46.5" fill="#c0c0c0"/>
<rect x="1319" y="651.3" width="1" height="64.2" fill="#c0c0c0"/>
<rect x="1327" y="651.3" width="1" height="89.4" fill="#c0c0c0"/>
<polyline points="0.0,696.1 12.6,693.5 25.2,691.5 37.8,689.5 50.5,686.5 63.1,684.5 75.7,681.4 88.3,679.4 100.9,676.4 108.5,673.9 118.6,669.3 126.1,665.0 138.7,658.2 151.4,651.2 164.0,641.1 176.6,632.2 189.2,622.1 201.8,615.3 214.4,607.8 227.0,601.2 239.7,598.7 252.3,597.4 264.9,597.7 277.5,599.4 290.1,602.7 302.7,607.8 315.3,613.8 328.0,619.6 340.6,626.4 353.2,633.0 365.8,638.0 378.4,639.3 391.0,636.5 403.6,633.5 422.6,622.9 435.2,614.6 447.8,607.8 460.5,602.5 473.1,598.2 485.7,594.9 498.3,594.4 510.9,594.4 536.1,594.4 561.4,593.9 586.6,592.6 606.8,592.6 611.8,593.6 624.4,596.9 637.0,602.0 649.7,605.7 662.3,612.1 674.9,617.1 687.5,620.1 700.1,622.7 712.7,624.7 730.4,625.4 738.0,627.2 750.6,629.2 763.2,631.0 780.8,633.0 793.5,632.2 813.6,629.7 832.6,624.7 845.2,621.4 857.8,620.4 870.5,619.1 883.1,619.6 895.7,621.6 903.2,622.9 920.9,629.0 933.5,632.2 946.1,638.0 958.7,641.6 971.4,648.6 984.0,652.4 996.6,654.2 1009.2,653.7 1021.8,651.7 1034.4,648.6 1047.0,644.1 1059.7,637.8 1072.3,634.8 1084.9,633.5 1092.5,633.5 1097.5,635.5 1110.1,639.8 1122.7,644.9 1135.3,653.7 1148.0,665.0 1160.6,671.3 1173.2,675.1 1185.8,674.4 1198.4,672.1 1200.0,671.3 1212.6,665.0 1225.2,657.5 1237.8,651.9 1250.5,649.4 1263.1,648.1 1275.7,648.6 1283.2,650.7 1288.3,653.2 1300.9,659.2 1313.5,667.6 1326.1,680.9" fill="none" stroke="#ff0000" stroke-width="1" stroke-dasharray="3,2"/>
</g>
<rect x="1619" y="581" width="2" height="1" fill="#000"/>
<rect x="1619" y="651" width="2" height="1" fill="#000"/>
<rect x="1619" y="748" width="2" height="1" fill="#000"/>
<line x1="0" y1="787.5" x2="1618" y2="787.5" stroke="#c0c0c0" stroke-width="1" stroke-dasharray="3,3"/>
<line x1="0" y1="838.5" x2="1618" y2="838.5" stroke="#c0c0c0" stroke-width="1" stroke-dasharray="3,3"/>
<line x1="0" y1="899.5" x2="1618" y2="899.5" stroke="#c0c0c0" stroke-width="1" stroke-dasharray="3,3"/>
<g clip-path="url(#cr)">
<polyline points="0.0,848.4 7.5,852.4 15.5,842.3 23.5,845.8 31.5,858.0 39.5,860.5 47.5,846.6 55.5,846.6 63.5,845.3 71.5,838.5 79.5,838.5 87.5,841.6 95.5,842.3 103.5,841.1 111.5,830.7 119.5,816.3 127.5,816.3 135.5,817.6 143.5,811.8 151.5,816.3 159.5,806.2 167.5,803.7 175.5,800.4 183.5,810.0 191.5,808.0 199.5,806.2 207.5,804.5 215.5,802.5 223.5,813.8 231.5,810.5 239.5,810.5 247.5,818.1 255.5,810.5 263.5,813.8 271.5,828.2 279.5,826.4 287.5,824.7 295.5,828.9 303.5,847.4 311.5,850.4 319.5,838.5 327.5,843.3 335.5,841.6 343.5,847.1 351.5,842.3 359.5,826.4 367.5,817.1 375.5,815.1 383.5,815.1 391.5,803.7 399.5,805.5 407.5,804.5 415.5,806.2 423.5,803.7 431.5,799.9 439.5,799.9 447.5,798.2 455.5,796.9 463.5,796.1 471.5,795.4 479.5,792.4 487.5,794.4 495.5,794.4 503.5,816.3 511.5,806.2 519.5,805.0 527.5,796.9 535.5,793.1 543.5,798.2 551.5,790.3 559.5,799.9 567.5,799.9 575.5,808.3 583.5,805.5 591.5,813.3 599.5,824.4 607.5,815.6 615.5,821.4 623.5,818.3 631.5,830.2 639.5,836.0 647.5,838.3 655.5,831.5 663.5,825.2 671.5,817.6 679.5,818.3 687.5,817.1 695.5,817.1 703.5,828.2 711.5,825.7 719.5,837.0 727.5,840.8 735.5,832.7 743.5,828.9 751.5,820.1 759.5,819.4 767.5,831.5 775.5,832.7 783.5,831.5 791.5,808.3 799.5,809.3 807.5,808.0 815.5,803.7 823.5,808.0 831.5,818.3 839.5,818.3 847.5,821.4 855.5,819.4 863.5,824.4 871.5,826.4 879.5,830.2 887.5,818.9 895.5,829.4 903.5,831.5 911.5,851.6 919.5,850.4 927.5,845.8 935.5,833.5 943.5,852.4 951.5,856.2 959.5,854.2 967.5,860.0 975.5,838.3 983.5,829.4 991.5,831.5 999.5,830.2 1007.5,820.1 1015.5,824.4 1023.5,822.6 1031.5,816.8 1039.5,821.4 1047.5,819.6 1055.5,820.1 1063.5,835.2 1071.5,835.2 1079.5,833.5 1087.5,846.1 1095.5,860.0 1103.5,867.3 1111.5,857.4 1119.5,858.7 1127.5,863.0 1135.5,876.1 1143.5,871.8 1151.5,865.5 1159.5,844.1 1167.5,831.0 1175.5,821.4 1183.5,831.0 1191.5,834.5 1199.5,830.7 1207.5,827.2 1215.5,827.2 1223.5,835.2 1231.5,841.1 1239.5,841.1 1247.5,844.8 1255.5,847.9 1263.5,833.2 1271.5,844.1 1279.5,852.9 1287.5,861.2 1295.5,871.1 1303.5,872.3 1311.5,873.6 1319.5,887.0 1327.5,894.5" fill="none" stroke="#1e90ff" stroke-width="1" />
</g>
<rect x="1619" y="753" width="2" height="1" fill="#000"/>
<rect x="1619" y="787" width="2" height="1" fill="#000"/>
<rect x="1619" y="838" width="2" height="1" fill="#000"/>
<rect x="1619" y="899" width="2" height="1" fill="#000"/>
<rect x="1619" y="923" width="2" height="1" fill="#000"/>
<rect x="63" y="926" width="1" height="4" fill="#000"/>
<rect x="127" y="926" width="1" height="4" fill="#000"/>
<rect x="191" y="926" width="1" height="4" fill="#000"/>
<rect x="255" y="926" width="1" height="4" fill="#000"/>
<rect x="319" y="926" width="1" height="4" fill="#000"/>
<rect x="383" y="926" width="1" height="4" fill="#000"/>
<rect x="447" y="926" width="1" height="4" fill="#000"/>
<rect x="511" y="926" width="1" height="4" fill="#000"/>
<rect x="575" y="926" width="1" height="4" fill="#000"/>
<rect x="639" y="926" width="1" height="4" fill="#000"/>
<rect x="703" y="926" width="1" height="4" fill="#000"/>
<rect x="767" y="926" width="1" height="4" fill="#000"/>
<rect x="831" y="926" width="1" height="4" fill="#000"/>
<rect x="895" y="926" width="1" height="4" fill="#000"/>
<rect x="959" y="926" width="1" height="4" fill="#000"/>
<rect x="1023" y="926" width="1" height="4" fill="#000"/>
<rect x="1087" y="926" width="1" height="4" fill="#000"/>
<rect x="1151" y="926" width="1" height="4" fill="#000"/>
<rect x="1215" y="926" width="1" height="4" fill="#000"/>
<rect x="1279" y="926" width="1" height="4" fill="#000"/>
<rect x="1488" y="472" width="8" height="1" fill="#ff0000"/><rect x="1495" y="470" width="4" height="5" fill="#ff0000"/><rect x="1496" y="471" width="2" height="3" fill="#fff"/>
<text x="1499.5" y="481" font-size="22" fill="#ff0000" textLength="70.5" lengthAdjust="spacingAndGlyphs">20737.5</text>
<text x="1419" y="529" font-size="31" font-weight="500" fill="#000" textLength="160" lengthAdjust="spacingAndGlyphs">多空转折点</text>
<text x="1418" y="528" font-size="31" font-weight="500" fill="#00ff00" textLength="160" lengthAdjust="spacingAndGlyphs">多空转折点</text>
<path d="M1337,25 L1346,25 L1341.5,30 Z" fill="#c0c0c0"/>
<path d="M2,35 L9,35 L5.5,31 Z" fill="#000"/>
</g>
<rect x="0" y="8" width="6" height="3" fill="#18a818"/><rect x="0" y="4" width="2" height="11" fill="#18a818"/>
<path d="M57,10 L64,1.5 L72,7.5 L66,15.5 Z" fill="#e2b828" stroke="#a06010" stroke-width="0.9"/>
<path d="M59.5,10 L65,3.5 L70,7" stroke="#fff0a0" stroke-width="1.2" fill="none"/>
<rect x="86" y="0" width="10" height="10" fill="#1e88ee"/><rect x="86" y="0" width="4" height="10" fill="#58b0ff"/><rect x="90.5" y="4" width="5" height="2.5" fill="#e0f0ff"/>
<path d="M86,15.5 A2.6,2.6 0 0 1 86.5,11 A3.4,3.4 0 0 1 93,9.5 A3,3 0 0 1 98,11.5 A2.2,2.2 0 0 1 99,15.5 Z" fill="#e6ecf6" stroke="#4a62a0" stroke-width="0.9"/>
<circle cx="120" cy="8" r="7.2" fill="none" stroke="#a8c0e8" stroke-width="0.9"/>
<circle cx="120" cy="8" r="4.6" fill="none" stroke="#6a94d8" stroke-width="0.9"/>
<circle cx="120" cy="8" r="1.6" fill="#2050c0"/><path d="M120.5,8 L120.5,16 M120.5,15.5 Q126,14.5 127,9" stroke="#28a028" stroke-width="1.2" fill="none"/>
<path d="M140,7 L154,7 L148,16 L146,16 Z" fill="#f0d848" stroke="#c0a020" stroke-width="0.6"/><ellipse cx="147.5" cy="5.5" rx="7.5" ry="2.6" fill="#58aee0"/><ellipse cx="147.5" cy="3.5" rx="3.5" ry="3" fill="#7cc4f0"/>
<circle cx="151.5" cy="11.5" r="4.2" fill="#e02010"/><rect x="150" y="10" width="3" height="3" fill="#fff"/>
<rect x="215" y="1" width="1" height="17" fill="#b8b8b8"/>
<rect x="253" y="1" width="1" height="17" fill="#b8b8b8"/>
<rect x="310" y="1" width="1" height="17" fill="#b8b8b8"/>
<rect x="400" y="1" width="1" height="17" fill="#b8b8b8"/>
<rect x="431" y="1" width="1" height="17" fill="#b8b8b8"/>
<rect x="462" y="1" width="1" height="17" fill="#b8b8b8"/>
<rect x="584" y="1" width="1" height="17" fill="#b8b8b8"/>
<rect x="593" y="1" width="1" height="17" fill="#b8b8b8"/>
<rect x="650" y="1" width="1" height="17" fill="#b8b8b8"/>
<rect x="889" y="1" width="1" height="17" fill="#b8b8b8"/>
<rect x="1150" y="1" width="1" height="17" fill="#b8b8b8"/>
<rect x="218.5" y="2" width="2.5" height="1" fill="#a0a0a0"/>
<rect x="218.5" y="4" width="2.5" height="1" fill="#a0a0a0"/>
<rect x="218.5" y="6" width="2.5" height="1" fill="#a0a0a0"/>
<rect x="218.5" y="8" width="2.5" height="1" fill="#a0a0a0"/>
<rect x="218.5" y="10" width="2.5" height="1" fill="#a0a0a0"/>
<rect x="218.5" y="12" width="2.5" height="1" fill="#a0a0a0"/>
<rect x="218.5" y="14" width="2.5" height="1" fill="#a0a0a0"/>
<rect x="218.5" y="16" width="2.5" height="1" fill="#a0a0a0"/>
<rect x="405" y="2" width="2.5" height="1" fill="#a0a0a0"/>
<rect x="405" y="4" width="2.5" height="1" fill="#a0a0a0"/>
<rect x="405" y="6" width="2.5" height="1" fill="#a0a0a0"/>
<rect x="405" y="8" width="2.5" height="1" fill="#a0a0a0"/>
<rect x="405" y="10" width="2.5" height="1" fill="#a0a0a0"/>
<rect x="405" y="12" width="2.5" height="1" fill="#a0a0a0"/>
<rect x="405" y="14" width="2.5" height="1" fill="#a0a0a0"/>
<rect x="405" y="16" width="2.5" height="1" fill="#a0a0a0"/>
<rect x="587.5" y="2" width="2.5" height="1" fill="#a0a0a0"/>
<rect x="587.5" y="4" width="2.5" height="1" fill="#a0a0a0"/>
<rect x="587.5" y="6" width="2.5" height="1" fill="#a0a0a0"/>
<rect x="587.5" y="8" width="2.5" height="1" fill="#a0a0a0"/>
<rect x="587.5" y="10" width="2.5" height="1" fill="#a0a0a0"/>
<rect x="587.5" y="12" width="2.5" height="1" fill="#a0a0a0"/>
<rect x="587.5" y="14" width="2.5" height="1" fill="#a0a0a0"/>
<rect x="587.5" y="16" width="2.5" height="1" fill="#a0a0a0"/>
<rect x="893" y="2" width="2.5" height="1" fill="#a0a0a0"/>
<rect x="893" y="4" width="2.5" height="1" fill="#a0a0a0"/>
<rect x="893" y="6" width="2.5" height="1" fill="#a0a0a0"/>
<rect x="893" y="8" width="2.5" height="1" fill="#a0a0a0"/>
<rect x="893" y="10" width="2.5" height="1" fill="#a0a0a0"/>
<rect x="893" y="12" width="2.5" height="1" fill="#a0a0a0"/>
<rect x="893" y="14" width="2.5" height="1" fill="#a0a0a0"/>
<rect x="893" y="16" width="2.5" height="1" fill="#a0a0a0"/>
<rect x="254" y="0" width="25" height="18" fill="#f6f6f6"/>
<rect x="406" y="0" width="24" height="18" fill="#f6f6f6"/>
<rect x="432" y="0" width="26" height="18" fill="#f6f6f6"/>
<rect x="594" y="0" width="25" height="18" fill="#f6f6f6"/>
<rect x="1067" y="0" width="26" height="18" fill="#f6f6f6"/>
<path d="M233.5,3 L233.5,16 M231,13.5 L244,13.5" stroke="#505050" stroke-width="1" fill="none"/><path d="M231.5,4 L233.5,1.5 L235.5,4 Z M243,11.5 L245.5,13.5 L243,15.5 Z" fill="#505050"/>
<path d="M239.5,3 L239.5,11.5 M239.5,4.5 L242,4.5 M237,10.5 L239.5,10.5" stroke="#109010" stroke-width="1.1" fill="none"/>
<path d="M261.5,3 L261.5,16 M259,13.5 L272,13.5" stroke="#505050" stroke-width="1" fill="none"/><path d="M259.5,4 L261.5,1.5 L263.5,4 Z M271,11.5 L273.5,13.5 L271,15.5 Z" fill="#505050"/>
<path d="M267.5,0 L267.5,11.5" stroke="#109010" stroke-width="1"/><rect x="265.5" y="2.5" width="4" height="7.5" fill="#40e040" stroke="#109010" stroke-width="1"/>
<path d="M289.5,3 L289.5,16 M287,13.5 L300,13.5" stroke="#505050" stroke-width="1" fill="none"/><path d="M287.5,4 L289.5,1.5 L291.5,4 Z M299,11.5 L301.5,13.5 L299,15.5 Z" fill="#505050"/>
<path d="M288.5,10.5 Q293,4 295,5.3 Q297,6.5 300,9" stroke="#28a028" stroke-width="1" fill="none"/>
<path d="M328.5,9.5 L333.5,14.5" stroke="#a08020" stroke-width="3"/><path d="M328.5,9.5 L333.5,14.5" stroke="#e8d050" stroke-width="1.6"/>
<circle cx="325" cy="6" r="5" fill="#d8ecff" stroke="#3a7ad0" stroke-width="1.2"/>
<path d="M322.5,6 L327.5,6" stroke="#3070b0" stroke-width="1.5"/>
<path d="M325,3.5 L325,8.5" stroke="#3070b0" stroke-width="1.5"/>
<path d="M356.5,9.5 L361.5,14.5" stroke="#a08020" stroke-width="3"/><path d="M356.5,9.5 L361.5,14.5" stroke="#e8d050" stroke-width="1.6"/>
<circle cx="353" cy="6" r="5" fill="#d8ecff" stroke="#3a7ad0" stroke-width="1.2"/>
<path d="M350.5,6 L355.5,6" stroke="#3070b0" stroke-width="1.5"/>
<rect x="375.5" y="0" width="7.5" height="7.5" fill="#28a028"/><rect x="376.5" y="3" width="5.5" height="3.5" fill="#f4f8f4"/>
<rect x="383.5" y="0" width="7.5" height="7.5" fill="#2860d0"/><rect x="384.5" y="3" width="5.5" height="3.5" fill="#f4f8f4"/>
<rect x="375.5" y="8" width="7.5" height="7.5" fill="#2860d0"/><rect x="376.5" y="11" width="5.5" height="3.5" fill="#f4f8f4"/>
<rect x="383.5" y="8" width="7.5" height="7.5" fill="#28a028"/><rect x="384.5" y="11" width="5.5" height="3.5" fill="#f4f8f4"/>
<path d="M413.5,3 L413.5,16 M411,13.5 L424,13.5" stroke="#505050" stroke-width="1" fill="none"/><path d="M411.5,4 L413.5,1.5 L415.5,4 Z M423,11.5 L425.5,13.5 L423,15.5 Z" fill="#505050"/>
<path d="M418,5 L422,7.7 L418,10.5 Z" fill="#20b020"/>
<path d="M441.5,3 L441.5,16 M439,13.5 L452,13.5" stroke="#505050" stroke-width="1" fill="none"/><path d="M439.5,4 L441.5,1.5 L443.5,4 Z M451,11.5 L453.5,13.5 L451,15.5 Z" fill="#505050"/>
<rect x="447" y="2" width="1" height="10" fill="#2070b0"/><path d="M453,7.5 L449,7.5 M450.5,5.5 L448.5,7.5 L450.5,9.5" stroke="#d83010" stroke-width="1.2" fill="none"/>
<path d="M472.5,1.5 L481,1.5 L484,4.5 L484,13.5 L472.5,13.5 Z" fill="#fafafa" stroke="#808080" stroke-width="1"/>
<rect x="476" y="10" width="12" height="3.5" fill="#22c022" stroke="#108010" stroke-width="0.6"/><rect x="480.2" y="5.8" width="3.5" height="12" fill="#22c022" stroke="#108010" stroke-width="0.6"/><rect x="476.5" y="10.5" width="11" height="2.5" fill="#22c022"/>
<path d="M494,7 L499.5,7 L496.75,10 Z" fill="#101010"/>
<path d="M533,7 L538.5,7 L535.75,10 Z" fill="#101010"/>
<path d="M572,7 L577.5,7 L574.75,10 Z" fill="#101010"/>
<path d="M878,7 L883.5,7 L880.75,10 Z" fill="#101010"/>
<circle cx="518" cy="8" r="7.3" fill="#1e6ed8"/><circle cx="518" cy="8" r="5.2" fill="#f4f8ff"/><path d="M517.5,4.5 L517.5,8.5 L520.5,8.5" stroke="#303030" fill="none"/>
<rect x="549.5" y="1.5" width="15.5" height="13" fill="#f8fbff" stroke="#3060b0"/><rect x="550" y="2" width="15" height="2" fill="#80a8e0"/><rect x="550" y="8.5" width="15" height="1" fill="#3060b0"/>
<path d="M551,7 L554,6 L557,6.5 L560,5.5 L563,5.5" stroke="#b02010" stroke-width="1" fill="none"/><path d="M551,12.5 L554,12 L557,11.5 L559.5,10.5 L563,12.5" stroke="#20a020" stroke-width="1" fill="none"/>
<path d="M601.3,0.9 L601.3,11.7 L603.5,9.9 L606,14.9 L608,14.2 L605.5,9 L608.9,8.6 Z" fill="#505050"/>
<path d="M626,8.5 L633,8.5 M634,8.5 L641,8.5 M633.5,1 L633.5,8 M633.5,9 L633.5,16" stroke="#505050" stroke-width="1" fill="none"/>
<rect x="667" y="2" width="1" height="13" fill="#505050"/>
<rect x="690" y="8" width="12" height="1" fill="#505050"/>
<path d="M718,15 L730,2.5" stroke="#505050" stroke-width="1" fill="none"/>
<path d="M743.5,10 L757,1.5 M745,14.5 L758,6 M747,8 L748.5,12.5 M750.5,5.5 L752,10 M754,3.5 L755.5,8" stroke="#505050" stroke-width="1" fill="none"/>
<path d="M773,1.5 L786,1.5 M773,4.5 L786,4.5 M773,8.5 L786,8.5 M773,12.5 L781,12.5" stroke="#606060" stroke-dasharray="1,1" stroke-width="1" fill="none"/>
<text x="755" y="16.5" font-size="6.5" font-weight="bold" fill="#505050">E</text><text x="782.5" y="16.5" font-size="6.5" font-weight="bold" fill="#505050">F</text>
<path d="M804,13 L807.6,4 L811.2,13 M805.5,10 L809.7,10" stroke="#505050" stroke-width="1.4" fill="none"/>
<rect x="830" y="2" width="11.5" height="12.5" fill="none" stroke="#606060" stroke-dasharray="1,1"/><path d="M832,5.5 L840,5.5 M836,5.5 L836,12.5" stroke="#505050" stroke-width="1.6" fill="none"/>
<path d="M857,5 L860,2.5 L863,5 L860,7.5 Z M865,12 L868,9.5 L871,12 L868,14.5 Z" fill="#505050"/><path d="M860,9 L862,11.5 L866,6.5" stroke="#505050" stroke-width="1.2" fill="none"/>
<text x="904" y="11.5" font-size="9.5" fill="#484848" letter-spacing="-0.2">M1</text>
<text x="932" y="11.5" font-size="9.5" fill="#484848" letter-spacing="-0.2">M5</text>
<text x="958" y="11.5" font-size="9.5" fill="#484848" letter-spacing="-0.2">M15</text>
<text x="986" y="11.5" font-size="9.5" fill="#484848" letter-spacing="-0.2">M30</text>
<text x="1017" y="11.5" font-size="9.5" fill="#484848" letter-spacing="-0.2">H1</text>
<text x="1044" y="11.5" font-size="9.5" fill="#484848" letter-spacing="-0.2">H4</text>
<text x="1073" y="11.5" font-size="9.5" fill="#484848" letter-spacing="-0.2">D1</text>
<text x="1101" y="11.5" font-size="9.5" fill="#484848" letter-spacing="-0.2">W1</text>
<text x="1127" y="11.5" font-size="9.5" fill="#484848" letter-spacing="-0.2">MN</text>
<rect x="1067" y="0" width="1" height="18" fill="#c0c0c0"/>
<circle cx="1619.5" cy="5" r="3.5" fill="none" stroke="#2f6fd8" stroke-width="1.6"/><path d="M1617,8 L1613,12.5" stroke="#2f6fd8" stroke-width="2.2"/>
<path d="M1646,7 Q1646,1 1653,1 Q1660,1 1660,5 Q1660,9 1654,9 L1652,11 L1652,9 Q1646,9 1646,7 Z" fill="#f4f4f4" stroke="#8a8a8a" stroke-width="0.9"/>
<path d="M1640,10 Q1640,6 1645,6 Q1651,6 1651,9.5 Q1651,13 1646,13 L1643,15 L1643.5,12.8 Q1640,12.5 1640,10 Z" fill="#f8f8f8" stroke="#8a8a8a" stroke-width="0.9"/>
<text x="7" y="11" font-size="12" fill="#000">新订单</text>
<text x="160" y="11" font-size="12" fill="#000">自动交易</text>

<defs>
<linearGradient id="gh" x1="0" y1="0" x2="0" y2="1"><stop offset="0" stop-color="#f65a5a"/><stop offset="1" stop-color="#d92a2a"/></linearGradient>
<linearGradient id="gl" x1="0" y1="0" x2="0" y2="1"><stop offset="0" stop-color="#da2828"/><stop offset="1" stop-color="#b20000"/></linearGradient>
<linearGradient id="gb" x1="0" y1="0" x2="0" y2="1"><stop offset="0" stop-color="#f6f6f6"/><stop offset="1" stop-color="#d6d6d6"/></linearGradient>
</defs>
<rect x="2" y="44" width="52" height="25" fill="url(#gh)"/>
<rect x="169" y="44" width="52" height="25" fill="url(#gh)"/>
<rect x="2" y="68" width="109" height="40" fill="url(#gl)"/>
<rect x="113" y="68" width="108" height="40" fill="url(#gl)"/>
<rect x="6" y="67" width="44" height="1" fill="#f07070"/>
<rect x="173" y="67" width="44" height="1" fill="#f07070"/>
<rect x="56" y="44" width="111" height="23" fill="#b8b8c0"/>
<rect x="57" y="45" width="20" height="21" fill="url(#gb)"/>
<rect x="146" y="45" width="20" height="21" fill="url(#gb)"/>
<rect x="78" y="45" width="67" height="21" fill="#fff"/>
<path d="M64,53 L69,53 L66.5,56 Z" fill="#5070c0"/>
<path d="M153,56 L158,56 L155.5,53 Z" fill="#5070c0"/>
<text x="14" y="60" font-size="12" fill="#fff" textLength="26" lengthAdjust="spacingAndGlyphs">SELL</text>
<text x="182" y="60" font-size="12" fill="#fff" textLength="24" lengthAdjust="spacingAndGlyphs">BUY</text>
<text x="118" y="59" font-size="13" fill="#000" textLength="24" lengthAdjust="spacingAndGlyphs">1.00</text>
<text x="18" y="99" font-size="12" font-weight="bold" fill="#fff" textLength="34.5" lengthAdjust="spacingAndGlyphs">20568</text>
<text x="127.5" y="99" font-size="12" font-weight="bold" fill="#fff" textLength="34.5" lengthAdjust="spacingAndGlyphs">20591</text>
<circle cx="59.5" cy="97" r="2.2" fill="#fff"/>
<circle cx="168.5" cy="97" r="2.2" fill="#fff"/>
<text x="64.5" y="99" font-size="33" fill="#fff" textLength="15" lengthAdjust="spacingAndGlyphs">5</text>
<text x="174.5" y="99" font-size="33" fill="#fff" textLength="15.5" lengthAdjust="spacingAndGlyphs">5</text>

<g class="ax"><text x="1624" y="50" fill="#000">24137.5</text>
<text x="1624" y="83" fill="#000">23875.0</text>
<text x="1624" y="116" fill="#000">23612.5</text>
<text x="1624" y="149" fill="#000">23350.0</text>
<text x="1624" y="182" fill="#000">23087.5</text>
<text x="1624" y="216" fill="#000">22817.5</text>
<text x="1624" y="249" fill="#000">22555.0</text>
<text x="1624" y="282" fill="#000">22292.5</text>
<text x="1624" y="314" fill="#000">22030.0</text>
<text x="1624" y="348" fill="#000">21767.5</text>
<text x="1624" y="381" fill="#000">21505.0</text>
<text x="1624" y="413" fill="#000">21235.0</text>
<text x="1624" y="446" fill="#000">20972.5</text>
<text x="1624" y="479" fill="#000">20710.0</text>
<text x="1624" y="512" fill="#000">20447.5</text>
<text x="1624" y="546" fill="#000">20185.0</text>
<text x="1624" y="578" fill="#000">19922.5</text>
<text x="1622" y="590" fill="#000">397.81</text>
<text x="1622" y="655" fill="#000">0.00</text>
<text x="1622" y="746" fill="#000">-556.87</text>
<text x="1622" y="762" fill="#000">100</text>
<text x="1622" y="791" fill="#000">80</text>
<text x="1622" y="842" fill="#000">50</text>
<text x="1622" y="903" fill="#000">15</text>
<text x="1622" y="921" fill="#000">0</text>
<text x="14" y="36" fill="#000">JPN225-,Daily</text>
<text x="80.5" y="36" fill="#000">21372.5 21442.5 20452.5 20570.0</text>
<text x="3.5" y="592" fill="#000">MACD(12,26,9) -513.47 -186.03</text>
<text x="3" y="764" fill="#000">RSI(14) 17.0941</text>
<text x="-2" y="938" fill="#000" font-size="10" letter-spacing="-0.35">19 Aug 2019</text>
<text x="62" y="938" fill="#000" font-size="10" letter-spacing="-0.35">28 Aug 2019</text>
<text x="126" y="938" fill="#000" font-size="10" letter-spacing="-0.35">6 Sep 2019</text>
<text x="190" y="938" fill="#000" font-size="10" letter-spacing="-0.35">16 Sep 2019</text>
<text x="254" y="938" fill="#000" font-size="10" letter-spacing="-0.35">25 Sep 2019</text>
<text x="318" y="938" fill="#000" font-size="10" letter-spacing="-0.35">4 Oct 2019</text>
<text x="382" y="938" fill="#000" font-size="10" letter-spacing="-0.35">14 Oct 2019</text>
<text x="446" y="938" fill="#000" font-size="10" letter-spacing="-0.35">23 Oct 2019</text>
<text x="510" y="938" fill="#000" font-size="10" letter-spacing="-0.35">1 Nov 2019</text>
<text x="574" y="938" fill="#000" font-size="10" letter-spacing="-0.35">11 Nov 2019</text>
<text x="638" y="938" fill="#000" font-size="10" letter-spacing="-0.35">20 Nov 2019</text>
<text x="702" y="938" fill="#000" font-size="10" letter-spacing="-0.35">29 Nov 2019</text>
<text x="766" y="938" fill="#000" font-size="10" letter-spacing="-0.35">9 Dec 2019</text>
<text x="830" y="938" fill="#000" font-size="10" letter-spacing="-0.35">18 Dec 2019</text>
<text x="894" y="938" fill="#000" font-size="10" letter-spacing="-0.35">27 Dec 2019</text>
<text x="958" y="938" fill="#000" font-size="10" letter-spacing="-0.35">6 Jan 2020</text>
<text x="1022" y="938" fill="#000" font-size="10" letter-spacing="-0.35">15 Jan 2020</text>
<text x="1086" y="938" fill="#000" font-size="10" letter-spacing="-0.35">24 Jan 2020</text>
<text x="1150" y="938" fill="#000" font-size="10" letter-spacing="-0.35">3 Feb 2020</text>
<text x="1214" y="938" fill="#000" font-size="10" letter-spacing="-0.35">12 Feb 2020</text>
<text x="1278" y="938" fill="#000" font-size="10" letter-spacing="-0.35">21 Feb 2020</text>
<rect x="1620" y="413" width="41" height="11" fill="#ff0000"/><text x="1624" y="422" fill="#fff">21160.3</text>
<rect x="1620" y="440" width="41" height="11" fill="#ff0000"/><text x="1624" y="449" fill="#fff">20944.9</text>
<rect x="1620" y="466" width="41" height="11" fill="#33cc33"/><text x="1624" y="475" fill="#fff">20737.5</text>
<rect x="1620" y="487" width="41" height="11" fill="#000"/><text x="1624" y="496" fill="#fff">20570.0</text>
<rect x="1620" y="522" width="41" height="11" fill="#0000ff"/><text x="1624" y="531" fill="#fff">20290.8</text>
<rect x="1620" y="551" width="41" height="11" fill="#0000ff"/><text x="1624" y="560" fill="#fff">20059.5</text></g>
</svg>
</body></html>
